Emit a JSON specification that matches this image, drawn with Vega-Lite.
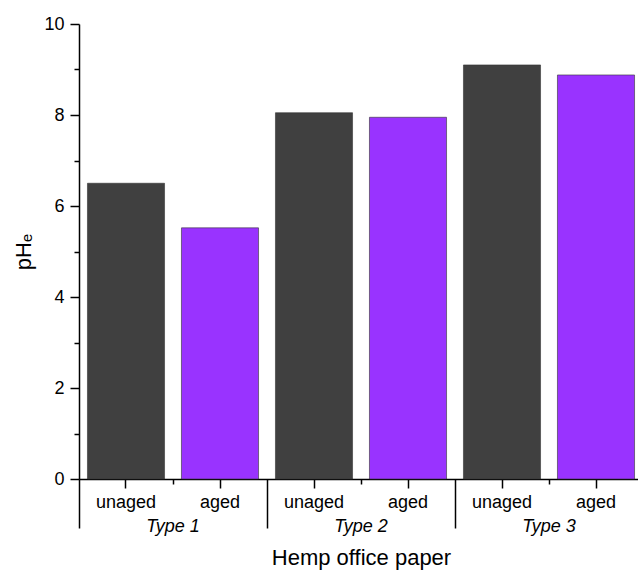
{
  "$schema": "https://vega.github.io/schema/vega-lite/v6.json",
  "autosize": {"type": "none"},
  "padding": {"left": 79, "top": 24, "right": 0, "bottom": 92},
  "width": 564,
  "height": 455,
  "config": {
    "view": {"stroke": null},
    "font": "Liberation Sans",
    "axis": {"grid": false, "domainColor": "#000000", "tickColor": "#000000", "labelColor": "#000000", "titleColor": "#000000", "titleFontWeight": "normal", "domainWidth": 1.5, "tickWidth": 1.5}
  },
  "data": {
    "values": [
      {"group": "Type 1", "cond": "unaged", "cat": "Type 1|unaged", "pH": 6.50},
      {"group": "Type 1", "cond": "aged", "cat": "Type 1|aged", "pH": 5.52},
      {"group": "Type 2", "cond": "unaged", "cat": "Type 2|unaged", "pH": 8.05},
      {"group": "Type 2", "cond": "aged", "cat": "Type 2|aged", "pH": 7.95},
      {"group": "Type 3", "cond": "unaged", "cat": "Type 3|unaged", "pH": 9.10},
      {"group": "Type 3", "cond": "aged", "cat": "Type 3|aged", "pH": 8.88}
    ]
  },
  "layer": [
    {
      "mark": {"type": "bar", "stroke": "#333333", "strokeOpacity": 0.6, "strokeWidth": 1},
      "encoding": {
        "x": {
          "field": "cat", "type": "nominal", "sort": null,
          "scale": {"paddingInner": 0.18, "paddingOuter": 0.09},
          "axis": {"orient": "bottom", "labelExpr": "split(datum.label, '|')[1]", "labelAngle": 0, "labelFontSize": 18, "labelPadding": 5, "tickSize": 9, "title": null}
        },
        "y": {
          "field": "pH", "type": "quantitative",
          "scale": {"domain": [0, 10], "nice": false},
          "axis": {"orient": "left", "domain": true, "values": [0, 2, 4, 6, 8, 10], "tickSize": 9, "labelFontSize": 18, "labelPadding": 6, "title": "pHₑ", "titleFontSize": 22, "titlePadding": 8}
        },
        "color": {
          "field": "cond", "type": "nominal",
          "scale": {"domain": ["unaged", "aged"], "range": ["#404040", "#9933ff"]},
          "legend": null
        }
      }
    },
    {
      "mark": {"type": "rule", "opacity": 0},
      "encoding": {
        "x": {
          "field": "group", "type": "nominal", "sort": null,
          "scale": {"paddingInner": 0, "paddingOuter": 0},
          "axis": {"orient": "bottom", "domain": false, "tickSize": 5, "labelAngle": 0, "labelFontSize": 18, "labelFontStyle": "italic", "labelPadding": 33, "title": "Hemp office paper", "titleFontSize": 22, "titlePadding": 12}
        }
      }
    },
    {
      "mark": {"type": "rule", "opacity": 0},
      "encoding": {
        "x": {
          "field": "group", "type": "nominal", "sort": null,
          "scale": {"paddingInner": 0, "paddingOuter": 0},
          "axis": {"orient": "bottom", "domain": false, "bandPosition": 0, "tickSize": 49, "labels": false, "title": null}
        }
      }
    },
    {
      "data": {"values": [{"m": 1}, {"m": 3}, {"m": 5}, {"m": 7}, {"m": 9}]},
      "mark": {"type": "rule", "opacity": 0},
      "encoding": {
        "y": {
          "field": "m", "type": "quantitative",
          "scale": {"domain": [0, 10], "nice": false},
          "axis": {"orient": "left", "values": [1, 3, 5, 7, 9], "tickSize": 5, "labels": false, "domain": false, "title": null}
        }
      }
    }
  ],
  "resolve": {"scale": {"x": "independent"}, "axis": {"x": "independent", "y": "independent"}}
}
